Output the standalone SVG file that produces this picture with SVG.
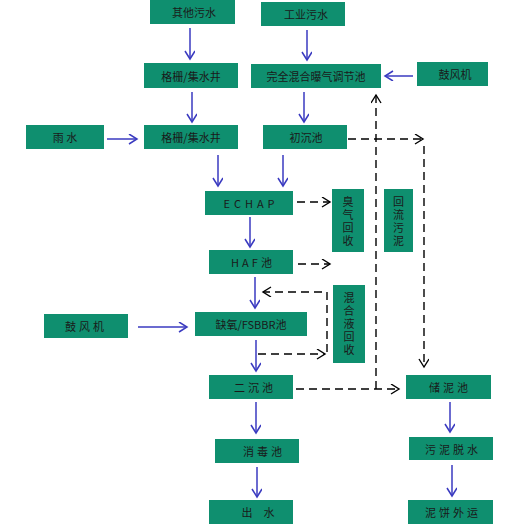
<svg xmlns="http://www.w3.org/2000/svg" width="509" height="528" viewBox="0 0 509 528">
<defs>
<style>
.box{fill:#0f8f6f;}
.t{font-family:"Noto Sans CJK SC","Liberation Sans",sans-serif;font-size:11px;fill:#1a1a1a;text-anchor:middle;dominant-baseline:central;}
.v{font-family:"Noto Sans CJK SC","Liberation Sans",sans-serif;font-size:11px;fill:#1a1a1a;text-anchor:middle;writing-mode:vertical-rl;letter-spacing:2px;}
.b{stroke:#3a3ac0;stroke-width:1.5;fill:none;marker-end:url(#ab);}
.d{stroke:#000;stroke-width:1.4;fill:none;stroke-dasharray:8,5;marker-end:url(#ak);}
</style>
<marker id="ab" markerUnits="userSpaceOnUse" markerWidth="12" markerHeight="12" refX="9" refY="5" orient="auto">
<path d="M1,0 L9,5 L1,10" fill="none" stroke="#3a3ac0" stroke-width="1.5"/>
</marker>
<marker id="ak" markerUnits="userSpaceOnUse" markerWidth="12" markerHeight="12" refX="9" refY="5" orient="auto">
<path d="M1,0 L9,5 L1,10" fill="none" stroke="#000" stroke-width="1.4"/>
</marker>
</defs>
<rect width="509" height="528" fill="#fff"/>
<g id="connectors">
<line class="b" x1="190" y1="28" x2="190" y2="59"/>
<line class="b" x1="307" y1="30" x2="307" y2="60"/>
<line class="b" x1="413" y1="76" x2="385" y2="76"/>
<line class="b" x1="192" y1="92" x2="192" y2="122"/>
<line class="b" x1="304" y1="92" x2="304" y2="122"/>
<line class="b" x1="107" y1="139" x2="137" y2="139"/>
<line class="b" x1="218" y1="155" x2="218" y2="186"/>
<line class="b" x1="283" y1="155" x2="283" y2="186"/>
<line class="b" x1="250" y1="217" x2="250" y2="247"/>
<line class="b" x1="255" y1="277" x2="255" y2="308"/>
<line class="b" x1="138" y1="327" x2="187" y2="327"/>
<line class="b" x1="256" y1="340" x2="256" y2="371"/>
<line class="b" x1="256" y1="402" x2="256" y2="433"/>
<line class="b" x1="257" y1="467" x2="257" y2="497"/>
<line class="b" x1="450" y1="402" x2="450" y2="432"/>
<line class="b" x1="452" y1="465" x2="452" y2="496"/>
<line class="d" x1="348" y1="139" x2="423" y2="139"/>
<line class="d" x1="424" y1="146" x2="424" y2="367"/>
<line class="d" x1="297" y1="202" x2="330" y2="202"/>
<line class="d" x1="298" y1="264" x2="330" y2="264"/>
<line class="d" x1="258" y1="354" x2="325" y2="354"/>
<path class="d" d="M327,352 L327,292 L263,292"/>
<line class="d" x1="296" y1="389" x2="399" y2="389"/>
<line class="d" x1="376" y1="389" x2="376" y2="95"/>
</g>
<g id="n_qita"><rect class="box" x="150" y="0" width="85" height="24"/><text class="t" x="194" y="12">其他污水</text></g>
<g id="n_gongye"><rect class="box" x="261" y="2" width="84" height="24"/><text class="t" x="306" y="14">工业污水</text></g>
<g id="n_geshan1"><rect class="box" x="144" y="63" width="94" height="25"/><text class="t" x="191" y="75.5">格栅/集水井</text></g>
<g id="n_tiaojie"><rect class="box" x="251" y="64" width="130" height="24"/><text class="t" x="316" y="76">完全混合曝气调节池</text></g>
<g id="n_gufeng1"><rect class="box" x="417" y="62" width="71" height="24"/><text class="t" x="455" y="74">鼓风机</text></g>
<g id="n_yushui"><rect class="box" x="26" y="125" width="78" height="24"/><text class="t" x="65" y="137">雨 水</text></g>
<g id="n_geshan2"><rect class="box" x="144" y="125" width="94" height="24"/><text class="t" x="191" y="137">格栅/集水井</text></g>
<g id="n_chuchen"><rect class="box" x="263" y="125" width="84" height="24"/><text class="t" x="306" y="137">初沉池</text></g>
<g id="n_echap"><rect class="box" x="205" y="191" width="88" height="24"/><text class="t" x="251" y="203" letter-spacing="4">ECHAP</text></g>
<g id="n_chouqi"><rect class="box" x="332" y="189" width="32" height="63"/><text class="v" x="348" y="222">臭气回收</text></g>
<g id="n_huiliu"><rect class="box" x="384" y="189" width="29" height="63"/><text class="v" x="398.5" y="222">回流污泥</text></g>
<g id="n_haf"><rect class="box" x="209" y="250" width="84" height="24"/><text class="t" x="253" y="262" letter-spacing="3">HAF池</text></g>
<g id="n_hunhe"><rect class="box" x="333" y="285" width="32" height="78"/><text class="v" x="349" y="325">混合液回收</text></g>
<g id="n_gufeng2"><rect class="box" x="44" y="314" width="84" height="24"/><text class="t" x="86" y="326" letter-spacing="3">鼓风机</text></g>
<g id="n_queyang"><rect class="box" x="195" y="312" width="112" height="24"/><text class="t" x="251" y="324">缺氧/FSBBR池</text></g>
<g id="n_erchen"><rect class="box" x="209" y="375" width="84" height="24"/><text class="t" x="255" y="387" letter-spacing="3">二沉池</text></g>
<g id="n_chuni"><rect class="box" x="406" y="375" width="85" height="24"/><text class="t" x="450" y="387" letter-spacing="3">储泥池</text></g>
<g id="n_xiaodu"><rect class="box" x="215" y="439" width="84" height="24"/><text class="t" x="264" y="451" letter-spacing="3">消毒池</text></g>
<g id="n_tuoshui"><rect class="box" x="409" y="437" width="84" height="23"/><text class="t" x="453" y="448.5" letter-spacing="3">污泥脱水</text></g>
<g id="n_chushui"><rect class="box" x="209" y="500" width="84" height="24"/><text class="t" x="258" y="512">出　水</text></g>
<g id="n_nibing"><rect class="box" x="408" y="500" width="85" height="24"/><text class="t" x="453" y="512" letter-spacing="3">泥饼外运</text></g>
</svg>
